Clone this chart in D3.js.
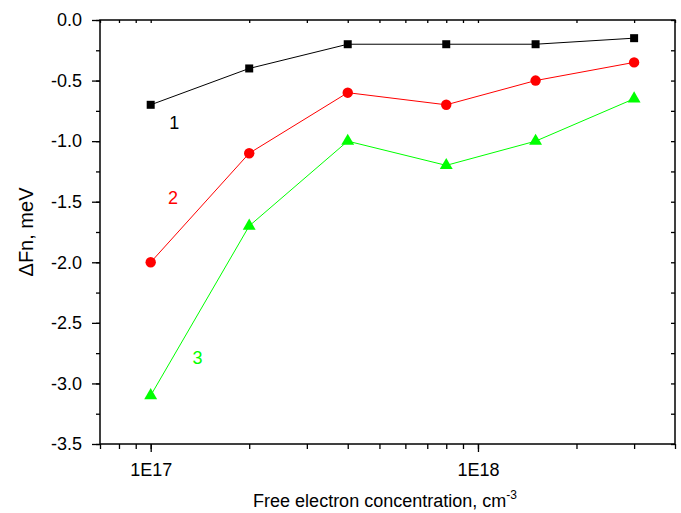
<!DOCTYPE html>
<html>
<head>
<meta charset="utf-8">
<script src="https://cdn.jsdelivr.net/npm/d3@7"></script>
<style>
  body { margin: 0; background: #fff; }
  svg { display: block; font-family: "Liberation Sans", Arial, sans-serif; }
  .axis path { display: none; }
  .axis text { font-size: 18px; fill: #000; }
</style>
</head>
<body>
<div id="chart"></div>
<script>
const concentration = [1e17, 2e17, 4e17, 8e17, 1.5e18, 3e18];
const curve1 = [-0.7, -0.4, -0.2, -0.2, -0.2, -0.15];
const curve2 = [-2.0, -1.1, -0.6, -0.7, -0.5, -0.35];
const curve3 = [-3.1, -1.7, -1.0, -1.2, -1.0, -0.65];
const yTicks = [0, -0.5, -1.0, -1.5, -2.0, -2.5, -3.0, -3.5];
const xTickLabels = [1e17, 1e18];

const width = 681, height = 513;
const margin = { top: 20, right: 6, bottom: 69, left: 100 };

const x = d3.scaleLog().domain([7e16, 4e18]).range([margin.left, width - margin.right]);
const y = d3.scaleLinear().domain([-3.5, 0]).range([height - margin.bottom, margin.top]);

const svg = d3.select("#chart").append("svg")
  .attr("width", width).attr("height", height);

// minor ticks on log axis: 2..9 multiples
const xMinor = [];
for (let e = 16; e <= 18; e++) {
  for (let m = 1; m <= 9; m++) {
    const v = m * Math.pow(10, e);
    if (v >= 7e16 && v <= 4e18) xMinor.push(v);
  }
}
const yMinor = d3.range(-3.5, 0.001, 0.25);

const fmtX = (d) => "1E" + Math.round(Math.log10(d));
const fmtY = (d) => d.toFixed(1).replace("\u2212", "-");

// bottom axis
svg.append("g").attr("class", "axis")
  .attr("transform", `translate(0,${height - margin.bottom})`)
  .call(d3.axisBottom(x).tickValues(xMinor).tickSize(5).tickFormat(""));
svg.append("g").attr("class", "axis")
  .attr("transform", `translate(0,${height - margin.bottom})`)
  .call(d3.axisBottom(x).tickValues(xTickLabels).tickSize(8).tickPadding(11).tickFormat(fmtX));

// left axis
svg.append("g").attr("class", "axis")
  .attr("transform", `translate(${margin.left},0)`)
  .call(d3.axisLeft(y).tickValues(yMinor).tickSize(4).tickFormat(""));
svg.append("g").attr("class", "axis")
  .attr("transform", `translate(${margin.left},0)`)
  .call(d3.axisLeft(y).tickValues(yTicks).tickSize(8).tickPadding(10)
    .tickFormat((d) => (d === 0 ? "0.0" : fmtY(d))));

// top and right inward ticks
svg.append("g").attr("class", "axis")
  .attr("transform", `translate(0,${margin.top})`)
  .call(d3.axisBottom(x).tickValues(xMinor).tickSize(3).tickFormat(""));
svg.append("g").attr("class", "axis")
  .attr("transform", `translate(${width - margin.right},0)`)
  .call(d3.axisLeft(y).tickValues(yMinor).tickSize(4).tickFormat(""));

svg.selectAll(".axis line").attr("stroke", "#000").attr("stroke-width", 1.3);

// frame
svg.append("rect")
  .attr("x", margin.left).attr("y", margin.top)
  .attr("width", width - margin.left - margin.right)
  .attr("height", height - margin.top - margin.bottom)
  .attr("fill", "none").attr("stroke", "#000").attr("stroke-width", 1.5);

const series = [
  { values: curve1, color: "#000000", symbol: d3.symbolSquare, size: 64, label: "1", at: [1.18e17, -0.86] },
  { values: curve2, color: "#ff0000", symbol: d3.symbolCircle, size: 85, label: "2", at: [1.17e17, -1.48] },
  { values: curve3, color: "#00ff00", symbol: d3.symbolTriangle, size: 72, label: "3", at: [1.39e17, -2.8] },
];

const line = d3.line().x((d) => x(d[0])).y((d) => y(d[1]));

series.forEach((s) => {
  const pts = concentration.map((c, i) => [c, s.values[i]]);
  svg.append("path")
    .attr("d", line(pts))
    .attr("fill", "none")
    .attr("stroke", s.color)
    .attr("stroke-width", 1);
  svg.append("g").selectAll("path")
    .data(pts)
    .join("path")
    .attr("transform", (d) => `translate(${x(d[0])},${y(d[1])})`)
    .attr("d", d3.symbol().type(s.symbol).size(s.size))
    .attr("fill", s.color);
  svg.append("text")
    .attr("x", x(s.at[0])).attr("y", y(s.at[1]))
    .attr("text-anchor", "middle")
    .attr("dominant-baseline", "middle")
    .attr("font-size", 18)
    .attr("fill", s.color)
    .text(s.label);
});

// axis titles
svg.append("text")
  .attr("transform", `translate(33,${(margin.top + height - margin.bottom) / 2}) rotate(-90)`)
  .attr("text-anchor", "middle")
  .attr("font-size", 20)
  .text("\u0394Fn, meV");

const xt = svg.append("text")
  .attr("x", 385)
  .attr("y", 507)
  .attr("text-anchor", "middle")
  .attr("font-size", 18);
xt.append("tspan").text("Free electron concentration, cm");
xt.append("tspan").attr("font-size", 12).attr("dy", -8).text("-3");
</script>
</body>
</html>
